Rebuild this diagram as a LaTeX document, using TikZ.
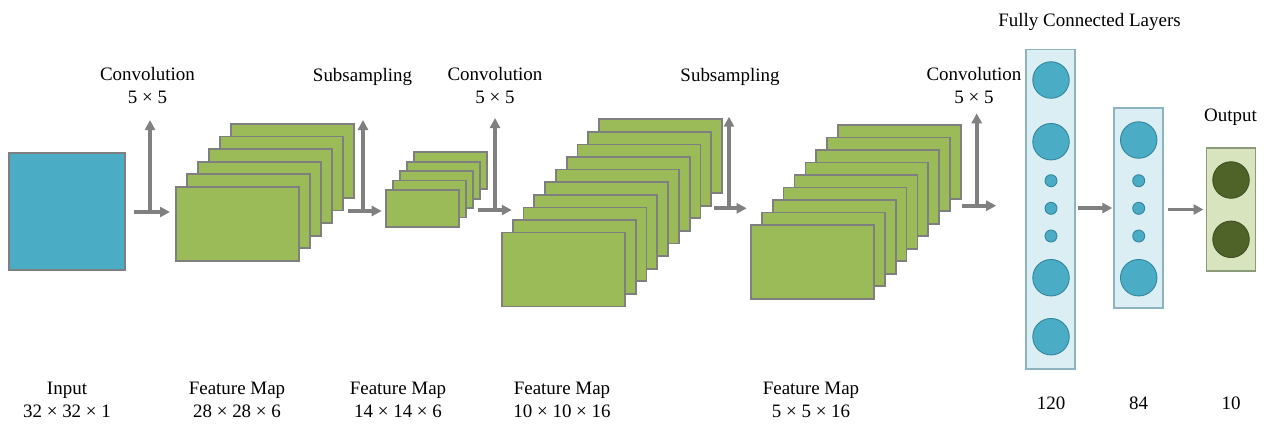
\documentclass[tikz,border=0pt]{standalone}
\usepackage{fontspec}
\setmainfont{Liberation Serif}
\usetikzlibrary{arrows.meta,positioning}

\definecolor{inblue}{HTML}{4BACC6}
\definecolor{mapgreen}{HTML}{9BBB59}
\definecolor{mapgray}{HTML}{7F7F7F}
\definecolor{arrgray}{HTML}{808080}
\definecolor{fcfill}{HTML}{DAEEF3}
\definecolor{fcedge}{HTML}{8DB3C0}
\definecolor{unitedge}{HTML}{31859C}
\definecolor{outfill}{HTML}{D7E4BD}
\definecolor{outedge}{HTML}{8A9A7A}
\definecolor{outdark}{HTML}{4F6228}

\begin{document}
\begin{tikzpicture}[
        x=0.02cm, y=-0.02cm,
        font=\fontsize{10.8}{13}\selectfont,
        fmap/.style={draw=mapgray, fill=mapgreen, line width=1pt, anchor=north west,
            minimum width=2.46cm, minimum height=1.48cm, inner sep=0pt},
        fmsmall/.style={fmap, minimum width=1.46cm, minimum height=0.74cm},
        layer/.style={draw=fcedge, fill=fcfill, line width=0.8pt,
            minimum width=0.98cm, inner sep=0pt},
        bigunit/.style={circle, draw=unitedge, fill=inblue, line width=0.5pt,
            minimum size=0.73cm, inner sep=0pt},
        smallunit/.style={bigunit, minimum size=0.24cm},
        outunit/.style={bigunit, draw=outdark!80!black, fill=outdark},
        lbl/.style={align=center},
        arr/.style={-{Triangle[length=2mm, width=2mm]}, line width=2.1pt, draw=arrgray}
    ]
        \useasboundingbox (0,0) rectangle (1266,424);

        % input image
        \node[draw=mapgray, fill=inblue, line width=0.8pt, inner sep=0pt,
            minimum width=2.32cm, minimum height=2.34cm] (inp) at (67,211.5) {};

        % feature map stacks, back to front
        \foreach \i in {5,...,0}
            \node[fmap] (cone-\i) at ({175+11*\i},{186-12.6*\i}) {};
        \foreach \i in {4,...,0}
            \node[fmsmall] (sone-\i) at ({385+7.1*\i},{189-9.4*\i}) {};
        \foreach \i in {9,...,0}
            \node[fmap] (ctwo-\i) at ({501+10.8*\i},{231.7-12.6*\i}) {};
        \foreach \i in {8,...,0}
            \node[fmap] (stwo-\i) at ({750+10.9*\i},{224-12.5*\i}) {};

        % fully connected layers
        \node[layer, minimum height=6.4cm] (fcone) at (1050.4,209.2) {};
        \foreach \y [count=\k] in {80,141.7,277.7,336.7}
            \node[bigunit] (ua-\k) at (1051,\y) {};
        \foreach \y [count=\k] in {180.7,208.3,236}
            \node[smallunit] (va-\k) at (1051,\y) {};
        \node[layer, minimum height=4cm] (fctwo) at (1138.5,208) {};
        \foreach \y [count=\k] in {140,277.7}
            \node[bigunit] (ub-\k) at (1138.7,\y) {};
        \foreach \y [count=\k] in {180.7,208.3,236}
            \node[smallunit] (vb-\k) at (1138.7,\y) {};
        \node[layer, draw=outedge, fill=outfill, minimum height=2.46cm] (outl) at (1231.2,209.5) {};
        \foreach \y [count=\k] in {180,239.3}
            \node[outunit] (uo-\k) at (1231,\y) {};

        % operation arrows
        \coordinate (j1) at (150,212);   \coordinate (t1) at (150,120);
        \coordinate (j2) at (363,211);   \coordinate (t2) at (363,120);
        \coordinate (j3) at (495,210);   \coordinate (t3) at (495,118);
        \coordinate (j4) at (729,208.3); \coordinate (t4) at (729,116.7);
        \coordinate (j5) at (976.7,205.7); \coordinate (t5) at (976.7,113.3);
        \draw[arr, shorten <=0.16cm, shorten >=0.1cm] (j1 -| inp.east) -- (j1 -| cone-0.west);
        \draw[arr] (j1) -- (t1);
        \draw[arr, shorten <=0.094cm, shorten >=0.066cm] (j2 -| cone-4.east) -- (j2 -| sone-0.west);
        \draw[arr] (j2) -- (t2);
        \draw[arr, shorten <=0.076cm] (j3 -| sone-2.east) -- (j3 -| ctwo-1.west);
        \draw[arr] (j3) -- (t3);
        \draw[arr, shorten <=0.26cm, shorten >=0.066cm] (j4 -| ctwo-7.east) -- (j4 -| stwo-0.west);
        \draw[arr] (j4) -- (t4);
        \draw[arr, shorten >=0.58cm] (j5 -| stwo-8.east) -- (j5 -| fcone.west);
        \draw[arr] (j5) -- (t5);
        \draw[arr, shorten <=0.04cm, shorten >=0.02cm] (fcone.east |- fctwo) -- (fctwo.west);
        \draw[arr, shorten <=0.08cm, shorten >=0.05cm] (fctwo.east |- outl) -- (outl.west);

        % labels
        \node[lbl] (lca) at (147.5,85.5) {Convolution\\5 × 5};
        \node (lsa) at (362.5,77) {Subsampling};
        \node[lbl] (lcb) at (495,85.5) {Convolution\\5 × 5};
        \node (lsb) at (730,77) {Subsampling};
        \node[lbl] (lcc) at (974,85.5) {Convolution\\5 × 5};
        \node (lfc) at (1089.5,22) {Fully Connected Layers};
        \node (lout) at (1230.5,117) {Output};

        \node[lbl] (lin) at (67,400) {Input\\32 × 32 × 1};
        \node[lbl] (lma) at (237,400) {Feature Map\\28 × 28 × 6};
        \node[lbl] (lmb) at (398,400) {Feature Map\\14 × 14 × 6};
        \node[lbl] (lmc) at (562,400) {Feature Map\\10 × 10 × 16};
        \node[lbl] (lmd) at (811,400) {Feature Map\\5 × 5 × 16};
        \node (ln1) at (1051,403) {120};
        \node (ln2) at (1138.5,403) {84};
        \node (ln3) at (1231,403) {10};
    \end{tikzpicture}
\end{document}
